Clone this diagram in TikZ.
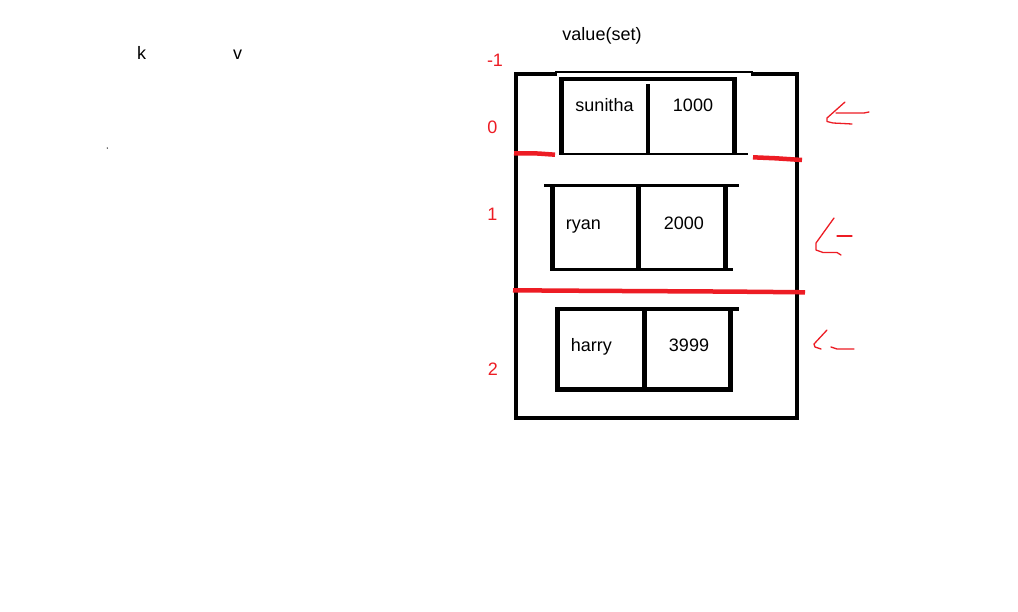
\documentclass[tikz,border=0pt]{standalone}
\usepackage{fontspec}
\setmainfont{Liberation Sans}
\definecolor{pred}{RGB}{237,28,36}
\begin{document}
\begin{tikzpicture}[x=1pt,y=-1pt,
  txt/.style={inner sep=0pt,anchor=base,font=\fontsize{18}{22}\selectfont},
  rtxt/.style={txt,text=pred},
  thk/.style={line width=4.5pt,line cap=rect,line join=miter},
  mid/.style={line width=3.5pt,line cap=rect},
  thin/.style={line width=1.3pt},
  redl/.style={draw=pred,line width=4.5pt},
  rstroke/.style={draw=pred,line width=1.3pt,line join=round,line cap=round}]
\useasboundingbox[fill=white] (0,0) rectangle (1018,611);
% labels
\node[txt] (k) at (141.5,59) {k};
\node[txt] (v) at (237.7,59) {v};
\fill (107.3,148) circle (0.7);
\node[txt] (title) at (602,40) {value(set)};
\node[rtxt] (im1) at (495,66.7) {-1};
\node[rtxt] (i0) at (492.5,133) {0};
\node[rtxt] (i1) at (492.5,220.7) {1};
\node[rtxt] (i2) at (493,375) {2};
% outer box
\draw[thk] (555,74) -- (516,74) -- (516,418) -- (797,418) -- (797,74) -- (753,74);
\draw[thin] (555,72) -- (753,72);
% sunitha box
\draw[thk,line cap=butt] (561.5,154) -- (561.5,79) -- (734.5,79) -- (734.5,154);
\draw[thk,line cap=butt] (648,84) -- (648,154);
\draw[line width=1.5pt] (559,154) -- (748,154);
\node[txt] (n1) at (604.5,111.7) {sunitha};
\node[txt] (v1) at (693,111.7) {1000};
% ryan box
\draw[mid,line cap=butt] (544,185.5) -- (739,185.5);
\draw[thk,line cap=butt] (552.5,185.5) -- (552.5,271);
\draw[thk,line cap=butt] (638.5,185.5) -- (638.5,271);
\draw[thk,line cap=butt] (725.5,185.5) -- (725.5,271);
\draw[mid,line cap=butt] (550.5,269.5) -- (733,269.5);
\node[txt] (n2) at (583.3,229) {ryan};
\node[txt] (v2) at (683.8,229) {2000};
% harry box
\draw[mid,line cap=butt] (555,309) -- (739,309);
\draw[thk,line cap=butt] (557.5,307.5) -- (557.5,391.5);
\draw[thk,line cap=butt] (644.5,307.5) -- (644.5,391.5);
\draw[thk,line cap=butt] (730.5,307.5) -- (730.5,391.5);
\draw[thk,line cap=butt] (555.5,389.5) -- (732.5,389.5);
\node[txt] (n3) at (591.3,351.7) {harry};
\node[txt] (v3) at (689,351.7) {3999};
% red separators
\draw[redl] (514,153.3) -- (538,153.5) -- (555,154.7);
\draw[redl] (753,157.3) -- (776,158.3) -- (802,160);
\draw[redl] (513,290.3) -- (587,290.8) -- (732,291.6) -- (805,292.3);
% red hand-drawn arrows
\draw[rstroke] (845,102) -- (827,118) -- (827,121.5) -- (833,123) -- (843,123.5) -- (852,124);
\draw[rstroke] (836,113) -- (864,113) -- (869,112);
\draw[rstroke] (834,218) -- (816,243) -- (816,250) -- (823,252.5) -- (837,252.5) -- (841,255);
\draw[rstroke] (837,236) -- (852,236);
\draw[rstroke] (827,330) -- (814,344) -- (815,347) -- (821,349);
\draw[rstroke] (831,347) -- (837,349) -- (854,349);
\end{tikzpicture}
\end{document}
